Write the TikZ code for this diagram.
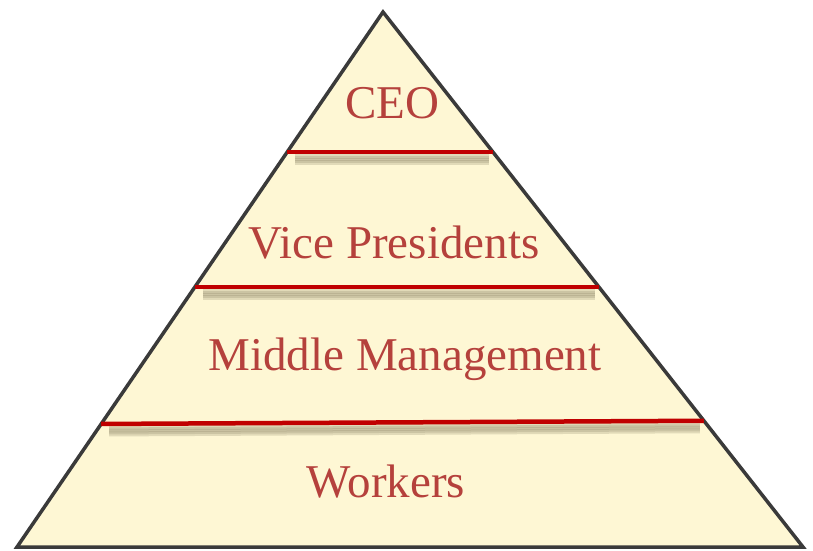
\documentclass[tikz,border=0pt]{standalone}
\usepackage{fontspec}
\setmainfont{Liberation Serif}
\usetikzlibrary{calc}
\definecolor{pyrfill}{HTML}{FEF7D4}
\definecolor{pyrred}{HTML}{C00000}
\definecolor{pyrtext}{HTML}{B5413C}
\definecolor{pyredge}{HTML}{3A3A3A}
\definecolor{pyrshadow}{HTML}{8C8466}

\begin{document}
\begin{tikzpicture}[x=1pt, y=-1pt,
levelnode/.style={anchor=base, text=pyrtext, inner sep=0pt, font=\fontsize{47}{50}\selectfont},
levelline/.style={draw=pyrred, line width=4.5pt},
levelshadow/.style={draw=pyrshadow, line width=5pt, opacity=0.25},
]
\useasboundingbox (0,0) rectangle (813,550);

%Corners
\coordinate (top)   at (383,12);
\coordinate (left)  at (17,547);
\coordinate (right) at (803,547);

%Triangle
\draw[fill=pyrfill, draw=pyredge, line width=3.5pt] (top) -- (left) -- (right) -- cycle;

%Level points on the sides
\coordinate (l1) at ($(top)!0.262!(left)$);
\coordinate (r1) at ($(top)!0.262!(right)$);
\coordinate (l2) at ($(top)!0.514!(left)$);
\coordinate (r2) at ($(top)!0.514!(right)$);
\coordinate (l3) at ($(top)!0.770!(left)$);
\coordinate (r3) at ($(top)!0.764!(right)$);

%Shadows
\foreach \a/\b in {l1/r1, l2/r2, l3/r3}{
  \foreach \d in {4,6,8,10}{
    \draw[levelshadow] ($(\a)+(8,\d)$) -- ($(\b)+(-4,\d)$);
  }
}

%Lines
\draw[levelline] (l1) -- (r1);
\draw[levelline] (l2) -- (r2);
\draw[levelline] (l3) -- (r3);

%Nodes
\node[levelnode] (ceo)     at (392,118) {CEO};
\node[levelnode] (vice)    at (394,258) {Vice Presidents};
\node[levelnode] (middle)  at (405,370) {Middle Management};
\node[levelnode] (workers) at (386,497) {Workers};
\end{tikzpicture}
\end{document}
